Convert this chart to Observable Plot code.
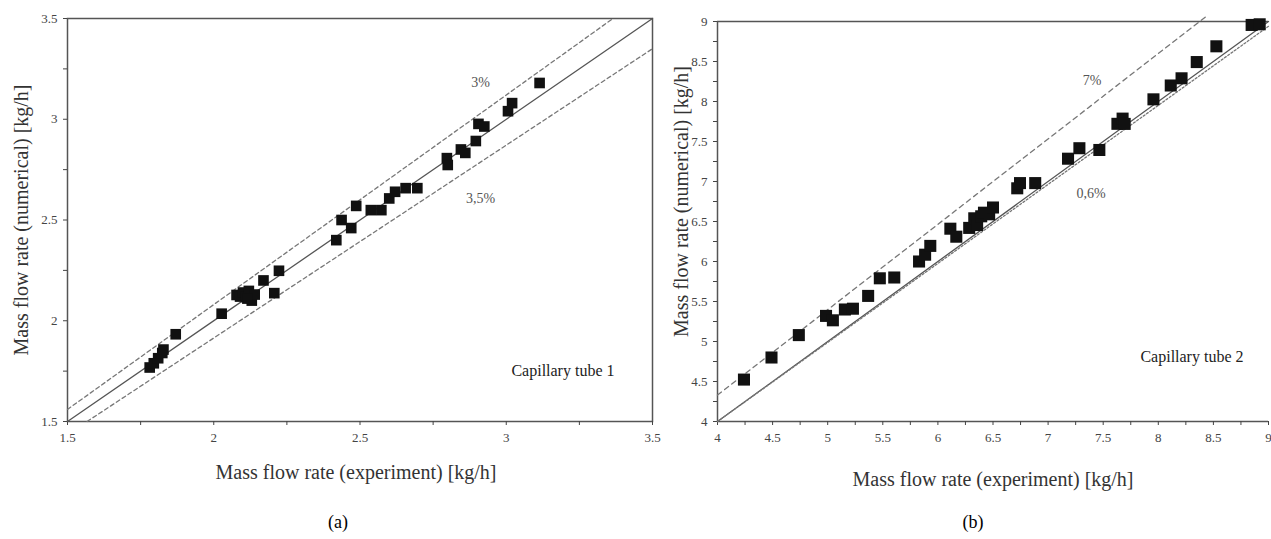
<!DOCTYPE html>
<html>
<head>
<meta charset="utf-8">
<script src="https://cdn.jsdelivr.net/npm/d3@7"></script>
<script src="https://cdn.jsdelivr.net/npm/@observablehq/plot@0.6"></script>
<style>
  html, body { margin: 0; padding: 0; background: #fff; overflow: hidden; }
  #wrap { position: relative; width: 1271px; height: 539px; overflow: hidden; }
  #a, #b { position: absolute; top: 0; }
  #a { left: 0; width: 660px; }
  #b { left: 660px; width: 620px; }
  #a svg, #b svg { max-width: none !important; }
</style>
</head>
<body>
<div id="wrap"><div id="a"></div><div id="b"></div></div>
<script>
// ---------- Panel (a): Capillary tube 1 ----------
const tube1Exp = [1.781, 1.795, 1.81, 1.824, 1.828, 1.870, 2.027, 2.078, 2.090, 2.100, 2.110, 2.120, 2.130, 2.140, 2.115, 2.170, 2.207, 2.223,
  2.419, 2.437, 2.47, 2.487, 2.537, 2.573, 2.600, 2.620, 2.656, 2.696, 2.797, 2.800, 2.845, 2.860, 2.896, 2.905, 2.925, 3.006, 3.020, 3.114];
const tube1Num = [1.768, 1.789, 1.814, 1.840, 1.857, 1.933, 2.035, 2.128, 2.120, 2.140, 2.118, 2.148, 2.100, 2.130, 2.110, 2.200, 2.137, 2.248,
  2.400, 2.500, 2.460, 2.570, 2.549, 2.549, 2.607, 2.640, 2.658, 2.658, 2.807, 2.773, 2.850, 2.833, 2.892, 2.977, 2.964, 3.040, 3.080, 3.180];
const tube1Ticks = [1.5, 2, 2.5, 3, 3.5];
const tube1Minor = [1.75, 2.25, 2.75, 3.25];
const tube1Domain = [1.5, 3.5];
const tube1IdealX = [1.5, 3.5], tube1IdealY = [1.5, 3.5];
const tube1UpperX = [1.5, 3.365], tube1UpperY = [1.56, 3.5];
const tube1LowerX = [1.567, 3.5], tube1LowerY = [1.5, 3.35];
const tube1Notes = ["3%", "3,5%"];
const tube1NoteX = [2.912, 2.912], tube1NoteY = [3.18, 2.607];
const tube1Name = "Capillary tube 1";

// ---------- Panel (b): Capillary tube 2 ----------
const tube2Exp = [4.24, 4.49, 4.738, 4.985, 5.047, 5.156, 5.229, 5.367, 5.473, 5.604, 5.829, 5.884, 5.931, 6.113, 6.167, 6.284, 6.330, 6.356, 6.393, 6.418, 6.465, 6.500,
  6.720, 6.745, 6.883, 7.181, 7.284, 7.465, 7.629, 7.676, 7.695, 7.956, 8.113, 8.211, 8.349, 8.527, 8.847, 8.920];
const tube2Num = [4.524, 4.80, 5.08, 5.32, 5.265, 5.40, 5.41, 5.57, 5.79, 5.80, 6.00, 6.085, 6.195, 6.41, 6.31, 6.42, 6.54, 6.456, 6.565, 6.61, 6.59, 6.675,
  6.915, 6.98, 6.98, 7.285, 7.416, 7.394, 7.721, 7.786, 7.72, 8.027, 8.20, 8.29, 8.493, 8.69, 8.957, 8.965];
const tube2Ticks = [4, 4.5, 5, 5.5, 6, 6.5, 7, 7.5, 8, 8.5, 9];
const tube2Minor = [4.25, 4.75, 5.25, 5.75, 6.25, 6.75, 7.25, 7.75, 8.25, 8.75];
const tube2Domain = [4, 9];
const tube2IdealX = [4, 9], tube2IdealY = [4, 9];
const tube2UpperX = [4, 8.445], tube2UpperY = [4.33, 9.075];
const tube2LowerX = [4, 9], tube2LowerY = [4, 8.94];
const tube2Notes = ["7%", "0,6%"];
const tube2NoteX = [7.40, 7.39], tube2NoteY = [8.26, 6.85];
const tube2Name = "Capillary tube 2";

const xTitle = "Mass flow rate (experiment) [kg/h]";
const yTitle = "Mass flow rate (numerical) [kg/h]";

const FONT = "Liberation Serif";
const pts = (xs, ys) => xs.map((x, i) => ({x, y: ys[i]}));
const fmt = d => String(d);

function panel(o) {
  const marks = [];
  if (o.fullFrame) {
    marks.push(Plot.frame({stroke: "#555", strokeWidth: 1.5}));
  } else {
    marks.push(Plot.ruleY([o.domain[0], o.domain[1]], {stroke: "#555", strokeWidth: 1.5}));
    marks.push(Plot.ruleX([o.domain[0]], {stroke: "#555", strokeWidth: 1.5}));
  }
  marks.push(
    Plot.axisX(o.ticks, {tickSize: 4, tickPadding: 7, fontSize: 13, fill: "#444", stroke: "#444", tickFormat: fmt, label: null}),
    Plot.axisX(o.minor, {tickSize: 4, tickFormat: () => "", stroke: "#444", label: null}),
    Plot.axisY(o.ticks, {tickSize: 4, tickPadding: 6, fontSize: 13, fill: "#444", stroke: "#444", tickFormat: fmt, label: null}),
    Plot.axisY(o.minor, {tickSize: 4, tickFormat: () => "", stroke: "#444", label: null}),
    Plot.line(pts(o.idealX, o.idealY), {x: "x", y: "y", stroke: "#555", strokeWidth: 1.3}),
    Plot.line(pts(o.upperX, o.upperY), {x: "x", y: "y", stroke: "#777", strokeWidth: 1.3, strokeDasharray: o.upperDash}),
    Plot.line(pts(o.lowerX, o.lowerY), {x: "x", y: "y", stroke: "#777", strokeWidth: 1.3, strokeDasharray: o.lowerDash}),
    Plot.dot(pts(o.exp, o.num), {x: "x", y: "y", symbol: "square", r: o.r, fill: "#111", stroke: "none"}),
    Plot.text(o.notes, {x: (d, i) => o.noteX[i], y: (d, i) => o.noteY[i], text: d => d, fontSize: 14, fill: "#555"}),
    Plot.text([o.name], {frameAnchor: "bottom-right", dx: o.nameDx, dy: o.nameDy, text: d => d, fontSize: 16, fill: "#222", textAnchor: "end"}),
    Plot.text([xTitle], {frameAnchor: "bottom", dx: o.xTitleDx, dy: o.xTitleDy, text: d => d, fontSize: 20, fill: "#333", textAnchor: "middle"}),
    Plot.text([yTitle], {frameAnchor: "left", dx: o.yTitleDx, dy: o.yTitleDy, rotate: -90, text: d => d, fontSize: 20, fill: "#333", textAnchor: "middle"}),
    Plot.text([o.caption], {frameAnchor: "bottom", dx: o.capDx, dy: 106, text: d => d, fontSize: 18, fill: "#000", textAnchor: "middle"})
  );
  return Plot.plot({
    width: o.width, height: 539,
    marginLeft: o.ml, marginRight: o.mr, marginTop: o.mt, marginBottom: 539 - 421,
    x: {domain: o.domain, label: null},
    y: {domain: o.domain, label: null},
    style: {fontFamily: FONT, background: "transparent", overflow: "visible", maxWidth: "none"},
    marks
  });
}

document.getElementById("a").append(panel({
  width: 660, ml: 67, mr: 8, mt: 18, domain: tube1Domain, fullFrame: true,
  ticks: tube1Ticks, minor: tube1Minor,
  idealX: tube1IdealX, idealY: tube1IdealY, upperX: tube1UpperX, upperY: tube1UpperY, lowerX: tube1LowerX, lowerY: tube1LowerY,
  upperDash: "4,3", lowerDash: "4,3",
  exp: tube1Exp, num: tube1Num, r: 6,
  notes: tube1Notes, noteX: tube1NoteX, noteY: tube1NoteY,
  name: tube1Name, nameDx: -38, nameDy: -46,
  xTitleDx: -4, xTitleDy: 57, yTitleDx: -46, yTitleDy: 0, caption: "(a)", capDx: -22
}));

document.getElementById("b").append(panel({
  width: 620, ml: 57, mr: 12, mt: 21, domain: tube2Domain, fullFrame: false,
  ticks: tube2Ticks, minor: tube2Minor,
  idealX: tube2IdealX, idealY: tube2IdealY, upperX: tube2UpperX, upperY: tube2UpperY, lowerX: tube2LowerX, lowerY: tube2LowerY,
  upperDash: "5,4", lowerDash: "2,2",
  exp: tube2Exp, num: tube2Num, r: 6.8,
  notes: tube2Notes, noteX: tube2NoteX, noteY: tube2NoteY,
  name: tube2Name, nameDx: -25, nameDy: -60,
  xTitleDx: 0, xTitleDy: 64, yTitleDx: -36, yTitleDy: -20, caption: "(b)", capDx: -20
}));
</script>
</body>
</html>
